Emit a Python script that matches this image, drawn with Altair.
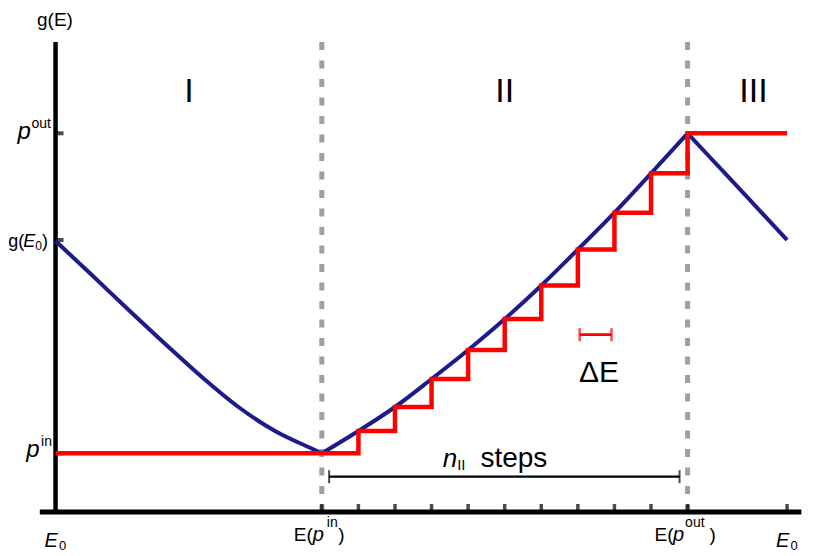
import altair as alt
import pandas as pd

FONT = "Liberation Sans"
BLUE = "#1b1b8c"
RED = "#ff0000"
GRAY = "#a0a0a0"

# ---------------- data (energy in units of the step width dE, g in arbitrary units)
E0_left = 0.0
E_pin = 7.28
E_pout = 17.28
E0_right = 20.0

g_pin = 0.587
g_E0 = 2.72
g_pout = 3.787
g_top = 4.70

# region I (blue)
reg1_E = [0.0, 1.0, 2.0, 3.0, 4.0, 5.0, 6.0, 7.0, 7.28]
reg1_g = [2.71, 2.367, 2.02, 1.68, 1.35, 1.05, 0.81, 0.635, 0.587]
# region II step positions and levels (blue passes through step corners)
step_E = [7.28, 8.28, 9.28, 10.28, 11.28, 12.28, 13.28, 14.28, 15.28, 16.28, 17.28]
step_g = [0.587, 0.81, 1.05, 1.33, 1.62, 1.93, 2.265, 2.625, 2.993, 3.387, 3.787]
# region III (blue)
reg3_E = [17.28, 18.0, 19.0, 20.0]
reg3_g = [3.787, 3.505, 3.113, 2.72]

# x-axis tick positions
xticks = step_E + [E0_right]
yticks = [g_pin, g_E0, g_pout]

roman = ["I", "II", "III"]
roman_E = [3.647, 12.28, 19.08]

xs = alt.Scale(domain=[-1.3, 20.9], nice=False, zero=False)
ys = alt.Scale(domain=[-0.44, 5.04], nice=False, zero=False)


def X(f="x"):
    return alt.X(f"{f}:Q", scale=xs, axis=None)


def Y(f="g"):
    return alt.Y(f"{f}:Q", scale=ys, axis=None)


def txt(x, g, s, size, italic=False, align="left", dx=0, dy=0, color="black"):
    df = pd.DataFrame({"x": [x], "g": [g], "t": [s]})
    return alt.Chart(df).mark_text(
        align=align, baseline="alphabetic", dx=dx, dy=dy, fontSize=size,
        font=FONT, fontStyle="italic" if italic else "normal", color=color
    ).encode(x=X(), y=Y(), text="t:N")


layers = []

# dashed separators
dash_df = pd.DataFrame({"x": [E_pin, E_pout], "g": [g_top, g_top], "g2": [0.0, 0.0]})
layers.append(alt.Chart(dash_df).mark_rule(strokeDash=[8, 10.5], strokeWidth=5, color=GRAY)
              .encode(x=X(), y=Y(), y2="g2:Q"))

# axes lines
layers.append(alt.Chart(pd.DataFrame({"x": [0.0], "g": [g_top], "g2": [-0.02]}))
              .mark_rule(strokeWidth=4.5, color="black").encode(x=X(), y=Y(), y2="g2:Q"))
layers.append(alt.Chart(pd.DataFrame({"x": [-0.43], "x2": [20.39], "g": [0.0]}))
              .mark_rule(strokeWidth=5, color="black").encode(x=X(), x2="x2:Q", y=Y()))

# ticks
layers.append(alt.Chart(pd.DataFrame({"x": xticks, "g": [0.0] * len(xticks)}))
              .mark_tick(orient="vertical", size=8, thickness=3.5, yOffset=-4, color="black")
              .encode(x=X(), y=Y()))
layers.append(alt.Chart(pd.DataFrame({"x": [0.0] * 3, "g": yticks}))
              .mark_tick(orient="horizontal", size=8, thickness=4, xOffset=4, color="black")
              .encode(x=X(), y=Y()))

# blue curve
rows = []
for seg, (ex, gy) in enumerate([(reg1_E, reg1_g), (step_E, step_g), (reg3_E, reg3_g)]):
    for i, (a, b) in enumerate(zip(ex, gy)):
        rows.append({"x": a, "g": b, "seg": seg, "o": i})
blue_df = pd.DataFrame(rows)
layers.append(alt.Chart(blue_df).mark_line(color=BLUE, strokeWidth=4, interpolate="monotone")
              .encode(x=X(), y=Y(), detail="seg:N", order="o:Q"))

# red step function
red_E = [E0_left] + step_E + [E0_right]
red_g = [g_pin] + step_g + [g_pout]
red_df = pd.DataFrame({"x": red_E, "g": red_g, "o": list(range(len(red_E)))})
layers.append(alt.Chart(red_df).mark_line(color=RED, strokeWidth=4.5, interpolate="step-after",
                                          strokeJoin="miter")
              .encode(x=X(), y=Y(), order="o:Q"))

# n_II bracket
nb_x1, nb_x2, nb_g = 7.48, 17.06, 0.353
layers.append(alt.Chart(pd.DataFrame({"x": [nb_x1], "x2": [nb_x2], "g": [nb_g]}))
              .mark_rule(strokeWidth=2.2, color="black").encode(x=X(), x2="x2:Q", y=Y()))
layers.append(alt.Chart(pd.DataFrame({"x": [nb_x1, nb_x2], "g": [nb_g, nb_g]}))
              .mark_tick(orient="vertical", size=13, thickness=2, color="black")
              .encode(x=X(), y=Y()))

# dE bracket
db_x1, db_x2, db_g = 14.33, 15.2, 1.773
layers.append(alt.Chart(pd.DataFrame({"x": [db_x1], "x2": [db_x2], "g": [db_g]}))
              .mark_rule(strokeWidth=2.8, color=RED).encode(x=X(), x2="x2:Q", y=Y()))
layers.append(alt.Chart(pd.DataFrame({"x": [db_x1, db_x2], "g": [db_g, db_g]}))
              .mark_tick(orient="vertical", size=13, thickness=2.5, color=RED)
              .encode(x=X(), y=Y()))

# texts
for r, e in zip(roman, roman_E):
    layers.append(txt(e, 4.103, r, 34, align="center"))

layers.append(txt(-0.016, 4.86, "g(E)", 19, align="center"))

# y labels
layers.append(txt(0, g_pout, "p", 24, italic=True, align="right", dx=-24.6, dy=5.2))
layers.append(txt(0, g_pout, "out", 14, align="left", dx=-24, dy=-5))
layers.append(txt(0, g_E0, ")", 18, align="right", dx=-7.6, dy=6.7))
layers.append(txt(0, g_E0, "0", 12, align="right", dx=-13.6, dy=10))
layers.append(txt(0, g_E0, "E", 18, italic=True, align="right", dx=-20.4, dy=6.7))
layers.append(txt(0, g_E0, "g(", 18, align="right", dx=-31.2, dy=6.7))
layers.append(txt(0, g_pin, "p", 24, italic=True, align="right", dx=-16, dy=3.2))
layers.append(txt(0, g_pin, "in", 14, align="left", dx=-14.5, dy=-7.3))

# x labels
for ex in [E0_left, E0_right]:
    layers.append(txt(ex, 0, "E", 20, italic=True, align="left", dx=-11, dy=35.3))
    layers.append(txt(ex, 0, "0", 13, align="left", dx=3.5, dy=38))

layers.append(txt(E_pin, 0, "E(", 19, align="right", dx=-9, dy=28.7))
layers.append(txt(E_pin, 0, "p", 20, italic=True, align="left", dx=-9, dy=28.7))
layers.append(txt(E_pin, 0, "in", 14, align="left", dx=5, dy=14.7))
layers.append(txt(E_pin, 0, ")", 19, align="left", dx=16.5, dy=28.7))

layers.append(txt(E_pout, 0, "E(", 19, align="right", dx=-14, dy=28.7))
layers.append(txt(E_pout, 0, "p", 20, italic=True, align="left", dx=-14.5, dy=28.7))
layers.append(txt(E_pout, 0, "out", 14, align="left", dx=-2.5, dy=15.3))
layers.append(txt(E_pout, 0, ")", 19, align="left", dx=22, dy=28.7))

# n_II steps
layers.append(txt(10.585, 0.453, "n", 26, italic=True))
layers.append(txt(10.98, 0.42, "II", 15))
layers.append(txt(11.615, 0.453, "steps", 28))

# Delta E
layers.append(txt(14.86, 1.30, "ΔE", 30, align="center"))

chart = alt.layer(*layers).properties(
    width=812, height=548, padding=0,
    autosize=alt.AutoSizeParams(type="none")
).configure_view(stroke=None)

chart.save("out.html", embed_options={"renderer": "svg", "actions": False})
